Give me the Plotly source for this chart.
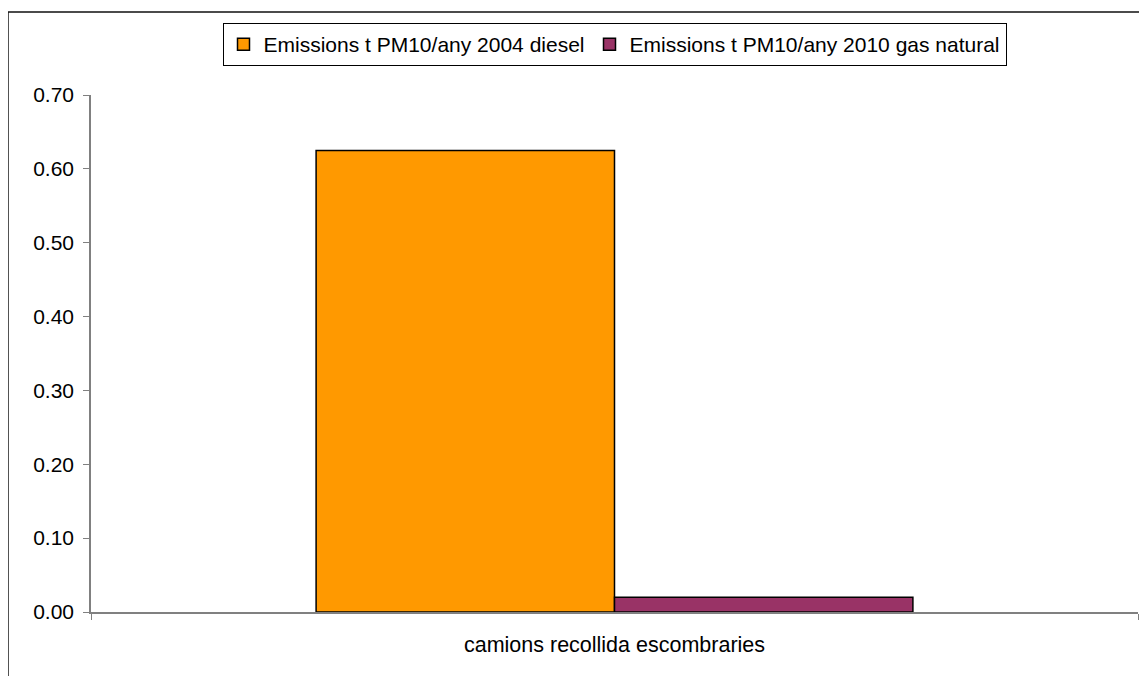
import plotly.graph_objects as go

categories = ["camions recollida escombraries"]
series_names = [
    "Emissions t PM10/any 2004 diesel",
    "Emissions t PM10/any 2010 gas natural",
]
diesel_2004 = [0.625]
gas_2010 = [0.02]
tick_vals = [0.0, 0.1, 0.2, 0.3, 0.4, 0.5, 0.6, 0.7]

fig = go.Figure()

fig.add_trace(go.Bar(
    x=categories,
    y=diesel_2004,
    name=series_names[0],
    marker={"color": "#FF9900", "line": {"color": "#000000", "width": 1.5}},
))

fig.add_trace(go.Bar(
    x=categories,
    y=gas_2010,
    name=series_names[1],
    marker={"color": "#993366", "line": {"color": "#000000", "width": 1.5}},
))

# page has an 8px body margin, so the figure is sized to fit inside it
fig.update_layout(
    barmode="group",
    bargap=0.43,
    bargroupgap=0,
    width=1139,
    height=668,
    paper_bgcolor="white",
    plot_bgcolor="white",
    font={"family": "Liberation Sans, Arial, sans-serif", "color": "#000000", "size": 21},
    margin=dict(l=83, r=9, t=87, b=64),
    legend={
        "orientation": "h",
        "xanchor": "center",
        "x": 0.5,
        "yanchor": "top",
        "y": 1.139,
        "bordercolor": "#000000",
        "borderwidth": 1,
        "font": {"size": 21},
        "itemwidth": 30,
        "tracegroupgap": 0,
    },
    xaxis={
        "showline": True,
        "linecolor": "#808080",
        "linewidth": 1.5,
        "ticks": "outside",
        "tickson": "boundaries",
        "ticklen": 6,
        "tickcolor": "#808080",
        "showgrid": False,
        "tickfont": {"size": 21.5},
        "ticklabelstandoff": 12,
    },
    yaxis={
        "range": [0, 0.7],
        "tickvals": tick_vals,
        "tickformat": ".2f",
        "showline": True,
        "linecolor": "#808080",
        "linewidth": 1.5,
        "ticks": "outside",
        "ticklen": 6,
        "tickcolor": "#808080",
        "showgrid": False,
        "zeroline": False,
        "tickfont": {"size": 21},
        "ticklabelstandoff": 5,
    },
    shapes=[
        dict(
            type="rect",
            xref="paper",
            yref="paper",
            x0=-0.0793,
            x1=1.2,
            y0=-0.5,
            y1=1.1605,
            line={"color": "#111111", "width": 1.5},
            fillcolor="rgba(0,0,0,0)",
            layer="below",
        )
    ],
)

fig.write_html("out.html")
